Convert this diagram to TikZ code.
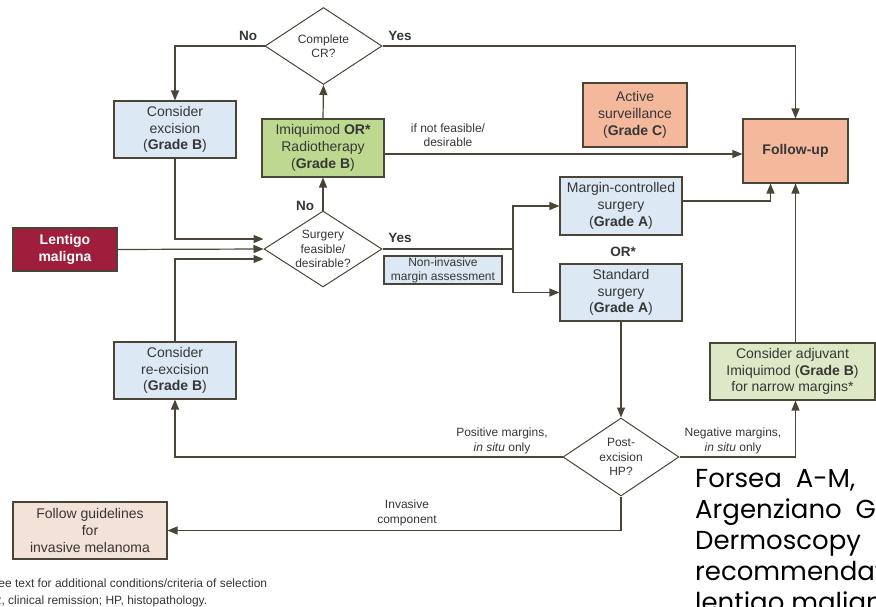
\documentclass[tikz,border=0pt]{standalone}
\usepackage{fontspec}
\setmainfont{Liberation Sans}
\newfontfamily\reffont{Poppins}
\usetikzlibrary{arrows.meta,shapes.geometric,calc}
\definecolor{ln}{HTML}{4A4536}
\definecolor{tx}{HTML}{363636}
\definecolor{bluef}{HTML}{DCE8F4}
\definecolor{greenf}{HTML}{BCD98F}
\definecolor{greenl}{HTML}{DDE9C6}
\definecolor{orangef}{HTML}{F4B89D}
\definecolor{beigef}{HTML}{F3E2D8}
\definecolor{redf}{HTML}{9E1E3C}
\begin{document}
\begin{tikzpicture}[x=1pt,y=-1pt,
 box/.style={draw=ln, line width=1.1pt, rectangle, inner sep=1pt, align=center, text=tx, font=\fontsize{14}{16.8}\selectfont},
 dia/.style={draw=ln, line width=1pt, diamond, aspect=1.5, inner sep=-3pt, align=center, text=tx, font=\fontsize{12}{14.5}\selectfont},
 lab/.style={align=center, text=tx, font=\fontsize{12}{14.5}\selectfont},
 yn/.style={text=tx, font=\bfseries\fontsize{13.5}{16}\selectfont},
 arr/.style={draw=ln, line width=1.2pt, -{Triangle[length=10pt,width=8pt]}},
 con/.style={draw=ln, line width=1.2pt}]
\useasboundingbox (0,0) rectangle (876,607);
\clip (0,0) rectangle (876,607);
\fill[white] (0,0) rectangle (876,607);

% nodes
\node[dia, minimum width=117pt, minimum height=77pt] (cr) at (323.5,46) {Complete\\CR?};
\node[box, fill=bluef, minimum width=122pt, minimum height=57pt] (excis) at (175,129.5) {Consider\\excision\\(\textbf{Grade B})};
\node[box, fill=greenf, minimum width=122pt, minimum height=58pt] (imiq) at (323,148) {Imiquimod \textbf{OR*}\\Radiotherapy\\(\textbf{Grade B})};
\node[box, fill=redf, text=white, minimum width=104pt, minimum height=43pt, font=\bfseries\fontsize{14}{17}\selectfont] (lent) at (65,249.5) {Lentigo\\maligna};
\node[dia, minimum width=118pt, minimum height=76pt] (surg) at (323,249) {Surgery\\feasible/\\desirable?};
\node[box, fill=bluef, minimum width=118pt, minimum height=28pt, font=\fontsize{12}{14}\selectfont] (noninv) at (443,270) {Non-invasive\\margin assessment};
\node[box, fill=orangef, minimum width=104pt, minimum height=64pt] (actsurv) at (635,115) {Active\\surveillance\\(\textbf{Grade C})};
\node[box, fill=orangef, minimum width=105pt, minimum height=64pt, font=\bfseries\fontsize{14}{16.8}\selectfont] (fup) at (795.5,151) {Follow-up};
\node[box, fill=bluef, minimum width=122pt, minimum height=58pt] (margin) at (621,206) {Margin-controlled\\surgery\\(\textbf{Grade A})};
\node[box, fill=bluef, minimum width=122pt, minimum height=57pt] (std) at (621,292.5) {Standard\\surgery\\(\textbf{Grade A})};
\node[dia, minimum width=116pt, minimum height=78pt] (post) at (621,457) {Post-\\excision\\HP?};
\node[box, fill=greenl, minimum width=165pt, minimum height=57pt] (adj) at (792.5,371.5) {Consider adjuvant\\Imiquimod (\textbf{Grade B})\\for narrow margins*};
\node[box, fill=bluef, minimum width=122pt, minimum height=57pt] (reexc) at (175,370.5) {Consider\\re-excision\\(\textbf{Grade B})};
\node[box, fill=beigef, minimum width=154pt, minimum height=57pt] (guide) at (90,530.5) {Follow guidelines\\for\\invasive melanoma};

\coordinate (sp) at (513,249);

% connectors
\draw[arr] (cr.west) -| (excis.north);
\draw[arr] (cr.east) -| (fup.north);
\draw[arr] (imiq.north) -- (cr.south);
\draw[arr] (surg.north) -- (imiq.south);
\draw[arr] ([yshift=-6pt]imiq.east) -- ([yshift=-3pt]fup.west);
\draw[arr] (lent.east) -- (surg.west);
\draw[arr] (excis.south) |- ([yshift=10pt]surg.west);
\draw[arr] (reexc.north) |- ([yshift=-10pt]surg.west);
\draw[con] (surg.east) -- (sp);
\draw[arr] (sp) |- (margin.west);
\draw[arr] (sp) |- (std.west);
\draw[arr] ([yshift=5pt]margin.east) -| ([xshift=-25pt]fup.south);
\draw[arr] (adj.north -| fup.south) -- (fup.south);
\draw[arr] (std.south) -- (post.north);
\draw[arr] (post.east) -| (fup.south |- adj.south);
\draw[arr] (post.west) -| (reexc.south);
\draw[arr] (post.south) |- (guide.east);

% labels
\node[yn] (lno1) at (248,36) {No};
\node[yn] (lyes1) at (400,36) {Yes};
\node[yn] (lno2) at (305,206) {No};
\node[yn] (lyes2) at (400,238) {Yes};
\node[yn] (lor) at (623,252) {OR*};
\node[lab] (lnf) at (448,135) {if not feasible/\\desirable};
\node[lab] (lpos) at (502,441) {Positive margins,\\\textit{in situ} only};
\node[lab] (lneg) at (733,441) {Negative margins,\\\textit{in situ} only};
\node[lab] (linv) at (407,513) {Invasive\\component};

% footnotes
\node[anchor=base west, inner sep=0, text=tx, font=\fontsize{12}{14}\selectfont] (fn1) at (-14.5,587) {*See text for additional conditions/criteria of selection};
\node[anchor=base west, inner sep=0, text=tx, font=\fontsize{12}{14}\selectfont] (fn2) at (-16,604) {CR, clinical remission; HP, histopathology.};

% citation
\node[anchor=north west, inner sep=0, align=left, text=black, font=\reffont\fontsize{26}{31}\selectfont] (cite) at (695,469) {Forsea\ \ A-M,\\Argenziano\ \ G\\Dermoscopy\\recommendations\\lentigo maligna};
\end{tikzpicture}
\end{document}
